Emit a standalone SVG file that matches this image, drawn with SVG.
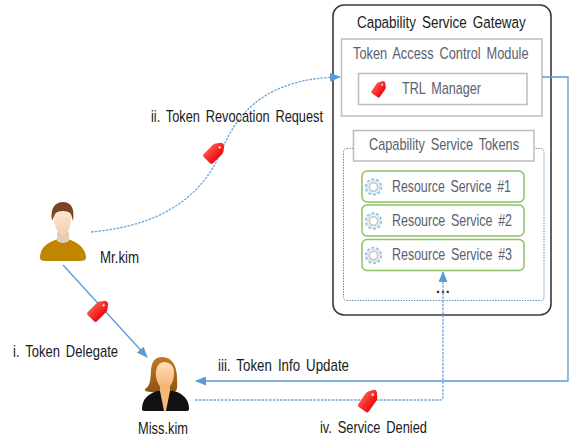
<svg xmlns="http://www.w3.org/2000/svg" width="569" height="439" viewBox="0 0 569 439">
<style>
text{font-family:"Liberation Sans",Arial,sans-serif;font-size:17px;word-spacing:3px;fill:#1a1a22}
.g{fill:#5a5e70}
.box{fill:#fff;stroke:#bdbdbd;stroke-width:1.5}
.rs{fill:#fff;stroke:#8cc168;stroke-width:1.5}
.conn{fill:none;stroke:#5b9bd5;stroke-width:1.3}
.dash{fill:none;stroke:#6aa6dc;stroke-width:1.3;stroke-dasharray:2.5 1.2}
</style>
<defs>
<marker id="arr" markerWidth="11" markerHeight="9" refX="10" refY="4.5" orient="auto" markerUnits="userSpaceOnUse"><path d="M0 0L11 4.500L0 9Z" fill="#5b9bd5"/></marker>
<linearGradient id="red" x1="0" y1="0" x2="0" y2="1"><stop offset="0" stop-color="#ff5048"/><stop offset="1" stop-color="#ea0a0a"/></linearGradient>
<linearGradient id="skin" x1="0" y1="0" x2="0" y2="1"><stop offset="0" stop-color="#fdeee0"/><stop offset="1" stop-color="#f3cfae"/></linearGradient>
<linearGradient id="skin2" x1="0" y1="0" x2="0" y2="1"><stop offset="0" stop-color="#fde0c0"/><stop offset="1" stop-color="#f6b070"/></linearGradient>
<linearGradient id="hair2" x1="0" y1="0" x2="0" y2="1"><stop offset="0" stop-color="#c07a20"/><stop offset="1" stop-color="#8a5512"/></linearGradient>
<g id="tag"><path d="M-11.500-3.500Q-12-6.500-9-6.500L3-6.500Q5-6.500 6.500-5.500L11-2Q12.500 0 11 2L6.500 5.500Q5 6.500 3 6.500L-9 6.500Q-12 6.500-11.500 3.500Z" fill="url(#red)"/><circle cx="6.500" cy="0" r="1.300" fill="#ffd9d9"/></g>
<g id="gear"><circle r="7.800" fill="none" stroke="#8fc4ea" stroke-width="1.800" stroke-dasharray="3 1.900"/><circle r="6.500" fill="#fff" stroke="#a9d2ee" stroke-width=".8"/><circle r="4.300" fill="#fff" stroke="#c8c8c8" stroke-width="1.800"/></g>
</defs>

<g id="gateway">
<rect x="333" y="5" width="218" height="310" rx="11" fill="#fff" stroke="#3a3a3a" stroke-width="1.600"/>
<text transform="translate(357 28) scale(.79 1)">Capability Service Gateway</text>
</g>
<g id="access-control">
<rect class="box" x="341.500" y="39" width="200.500" height="77"/>
<text class="g" transform="translate(353 59) scale(.754 1)">Token Access Control Module</text>
</g>
<g id="trl-manager">
<rect class="box" x="358.500" y="73.500" width="168.500" height="31"/>
<use href="#tag" transform="translate(379.500 88.500) rotate(-55) scale(.72 .78)"/>
<text class="g" x="402" y="94" textLength="79" lengthAdjust="spacingAndGlyphs">TRL Manager</text>
</g>
<g id="tokens">
<rect x="343.500" y="148.500" width="200.500" height="152" rx="3" fill="none" stroke="#5b8fbd" stroke-width="1" stroke-dasharray="1.500 1.200"/>
<rect class="box" x="353.500" y="130.500" width="180.500" height="30.500"/>
<text class="g" x="369" y="150" textLength="150" lengthAdjust="spacingAndGlyphs">Capability Service Tokens</text>
<text x="436" y="293" font-weight="bold" style="font-size:14px;letter-spacing:1px">...</text>
</g>
<g id="rs1">
<rect class="rs" x="362" y="171" width="162" height="31" rx="5"/>
<use href="#gear" x="373.500" y="187"/>
<text class="g" x="392" y="192" textLength="119" lengthAdjust="spacingAndGlyphs">Resource Service #1</text>
</g>
<g id="rs2">
<rect class="rs" x="362" y="205" width="162" height="31" rx="5"/>
<use href="#gear" x="373.500" y="221"/>
<text class="g" x="392" y="225.500" textLength="120" lengthAdjust="spacingAndGlyphs">Resource Service #2</text>
</g>
<g id="rs3">
<rect class="rs" x="362" y="239.500" width="162" height="31" rx="5"/>
<use href="#gear" x="373.500" y="255.500"/>
<text class="g" x="392" y="260" textLength="120" lengthAdjust="spacingAndGlyphs">Resource Service #3</text>
</g>

<g id="connectors">
<path class="dash" d="M91 232C170 225 205 190 222 150C240 105 275 78 340 77" marker-end="url(#arr)"/>
<path class="conn" d="M63 265L147 357" marker-end="url(#arr)"/>
<path class="conn" d="M542 77H568V381H196" marker-end="url(#arr)"/>
<path class="dash" d="M195 400H440Q443 400 443 397V272" marker-end="url(#arr)"/>
</g>
<use href="#tag" transform="translate(99 310) rotate(-45)"/>
<use href="#tag" transform="translate(215 152) rotate(-45)"/>
<use href="#tag" transform="translate(369 400) rotate(-55)"/>

<g id="mr-kim">
<path d="M40 258C40 248 46 243 58 239L68 239C80 243 86 250 86 258Q86 261 80 261L46 261Q40 261 40 258Z" fill="#c08600"/>
<path d="M57 232H69V241Q63 245 57 241Z" fill="#e3cdb8"/>
<path d="M54 218C53 207 57 203 63 203C69 203 72 208 71 218C71 226 68 235 63 235C58 235 54 226 54 218Z" fill="url(#skin)"/>
<path d="M52 221C50 208 55 202 63 202C71 202 75 208 73 221L71 214C69 210 57 210 55 214Z" fill="#7a4526"/>
<text x="100" y="263" textLength="39" lengthAdjust="spacingAndGlyphs">Mr.kim</text>
</g>
<g id="miss-kim">
<path d="M151 372C151 362 155 357 162 357C172 357 177 366 177 378C177 386 179 391 172 393L152 392C147 392 144 391 145 389C151 385 150 380 151 372Z" fill="url(#hair2)"/>
<path d="M142 409C142 399 148 394 157 391L174 391C184 394 189 400 189 409Q189 411 186 411L145 411Q142 411 142 409Z" fill="#111"/>
<path d="M160 386H170V391L166 411H164L160 391Z" fill="#f6b878"/>
<path d="M156 371C157 365 160 362 165 362C170 363 174 365 174 373C174 383 169 389 165 389C160 389 155 381 156 371Z" fill="url(#skin2)"/>
<text x="138" y="434" textLength="50" lengthAdjust="spacingAndGlyphs">Miss.kim</text>
</g>

<text x="151" y="122" textLength="172" lengthAdjust="spacingAndGlyphs">ii. Token Revocation Request</text>
<text x="13" y="357" textLength="105" lengthAdjust="spacingAndGlyphs">i. Token Delegate</text>
<text x="218" y="371" textLength="131" lengthAdjust="spacingAndGlyphs">iii. Token Info Update</text>
<text x="320" y="433" textLength="107" lengthAdjust="spacingAndGlyphs">iv. Service Denied</text>
</svg>
